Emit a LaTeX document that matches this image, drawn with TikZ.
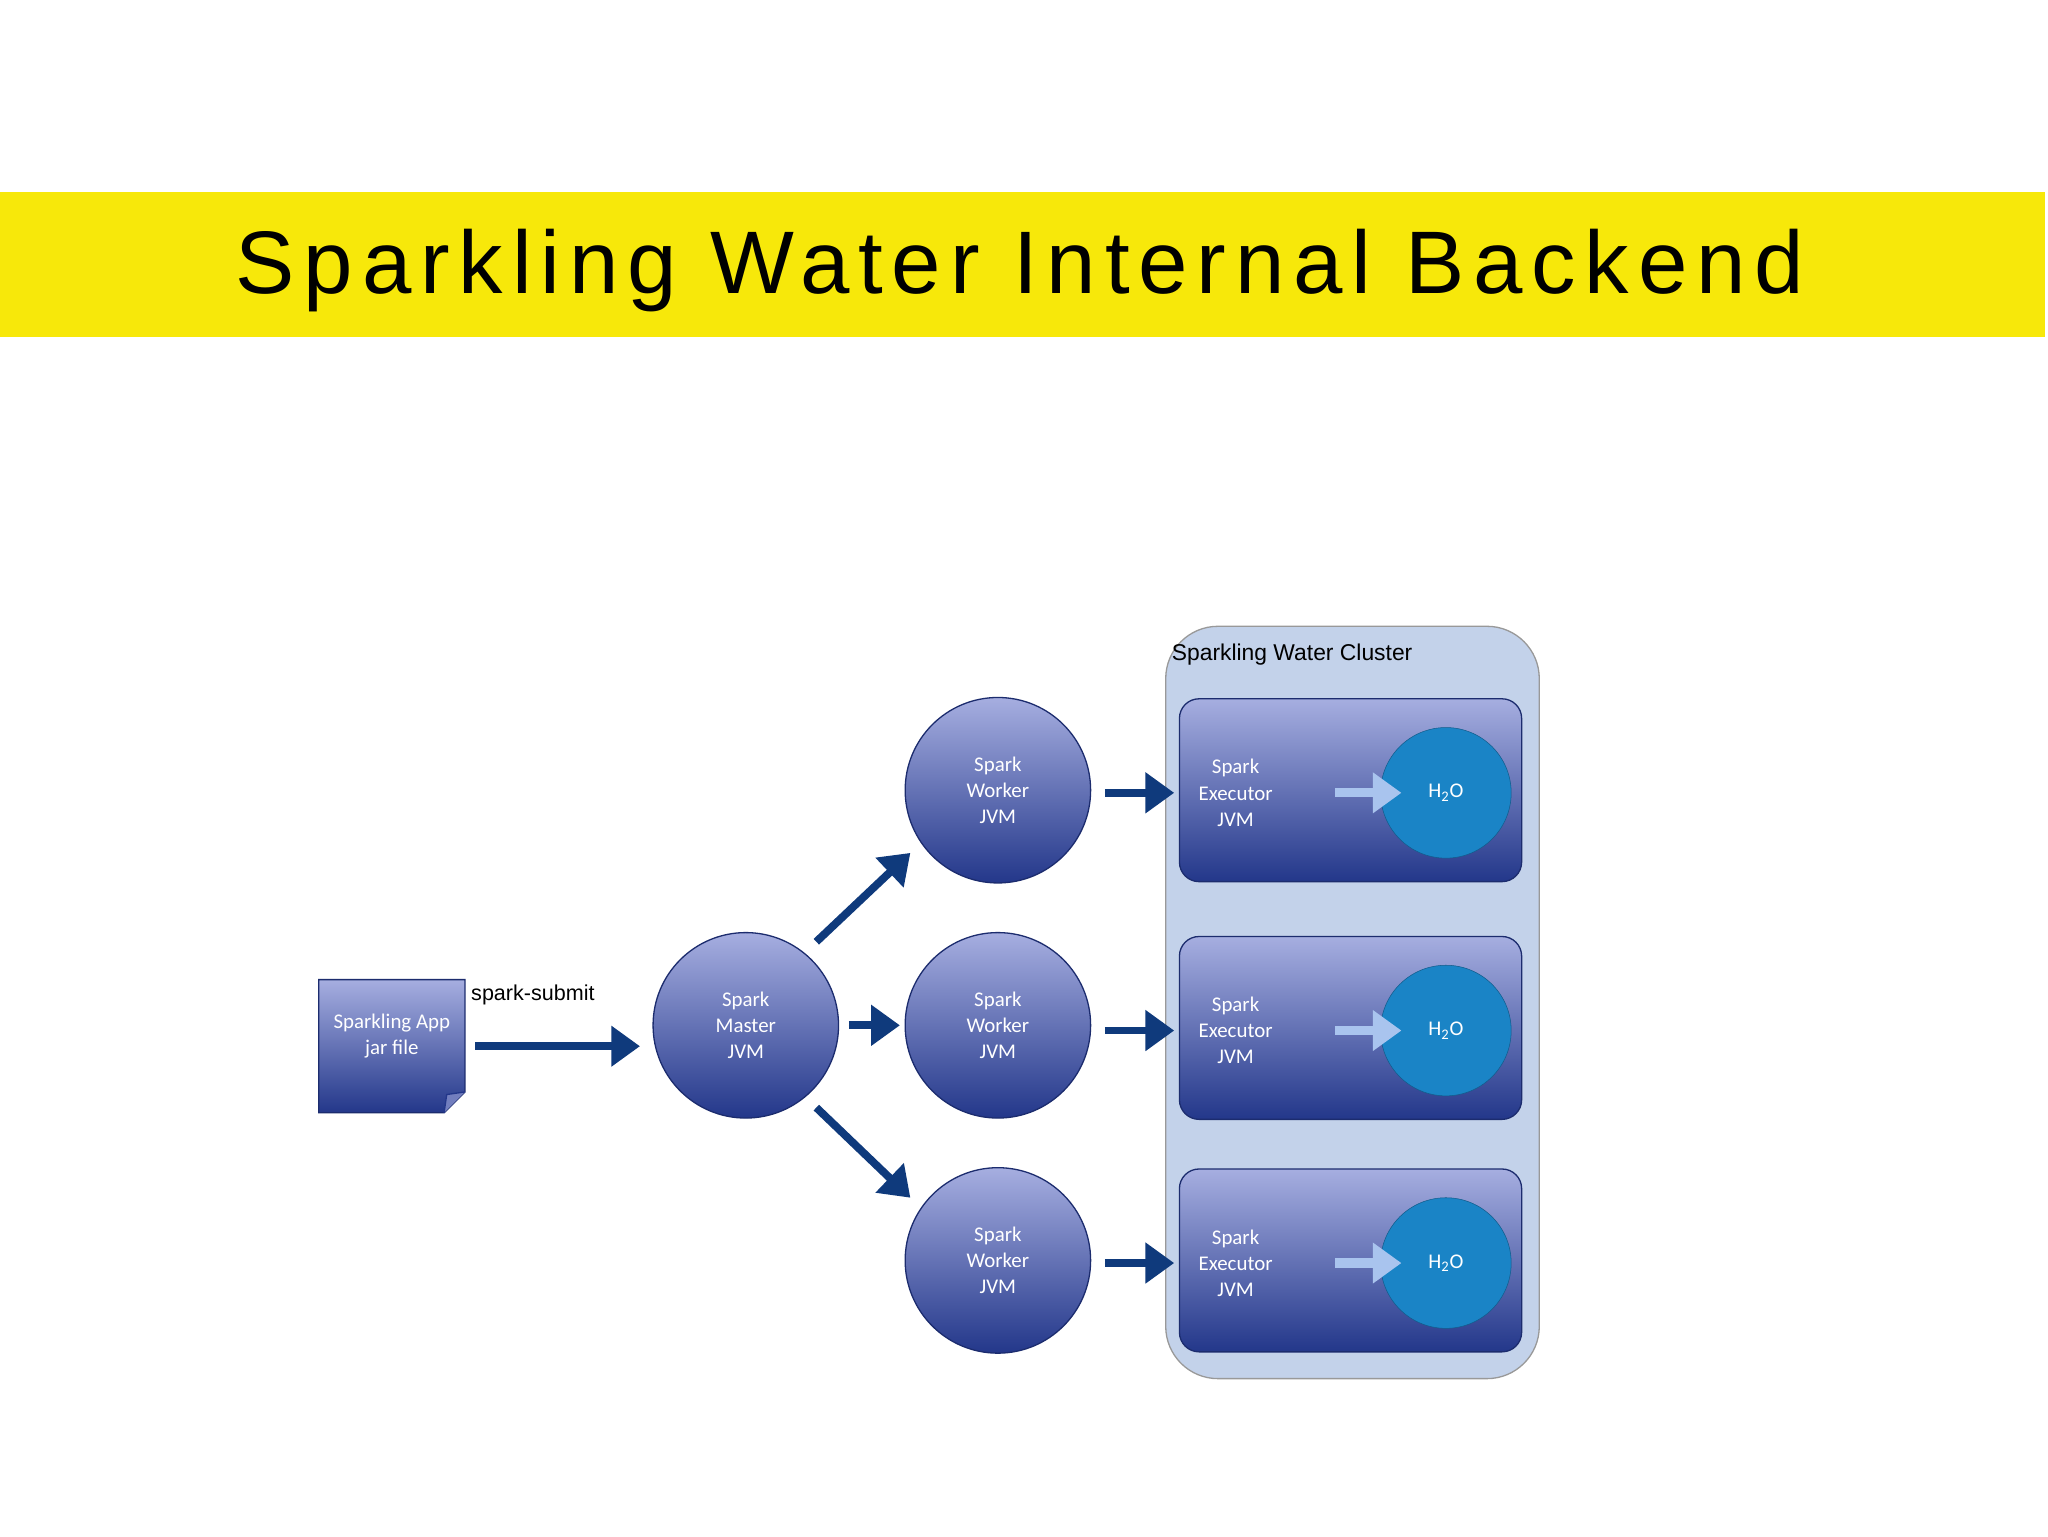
\documentclass[tikz,border=0pt]{standalone}
\usepackage{fontspec}
\setmainfont{Carlito}
\newfontfamily\titlefont[LetterSpace=10]{Liberation Sans}
\newfontfamily\arialf{Liberation Sans}
\usetikzlibrary{arrows.meta}
\definecolor{band}{HTML}{F7E80A}
\definecolor{clus}{HTML}{C3D2EA}
\definecolor{gtop}{HTML}{A6AEE0}
\definecolor{gbot}{HTML}{23378A}
\definecolor{htwo}{HTML}{1A84C6}
\definecolor{arr}{HTML}{0F3A7C}
\definecolor{larr}{HTML}{A9C4EE}
\tikzset{
  grad/.style={top color=gtop,bottom color=gbot,draw=gbot!80!black,line width=1pt},
  jvm/.style={grad,circle,minimum size=142pt,inner sep=0pt,text=white,font=\fontsize{16}{20}\selectfont,align=center},
  execbox/.style={grad,rounded corners=15pt,minimum width=262pt,minimum height=140pt,inner sep=0pt},
  hnode/.style={circle,fill=htwo,draw=htwo!70!black,minimum size=100pt,inner sep=0pt,text=white,font=\fontsize{16}{20}\selectfont},
  etext/.style={text=white,font=\fontsize{16}{20}\selectfont,align=center},
  bigarrow/.style={draw=arr,line width=6pt,-{Triangle[length=22pt,width=30pt]},fill=arr},
  lightarrow/.style={draw=larr,line width=7pt,-{Triangle[length=22pt,width=30pt]},fill=larr},
}
\begin{document}
\begin{tikzpicture}[x=1pt,y=-1pt]
\useasboundingbox (0,0) rectangle (1568,1176);
\fill[white] (0,0) rectangle (1568,1176);
\fill[band] (0,147) rectangle (1566,258);
\node (title) at (781,207) {\titlefont\fontsize{68}{70}\selectfont Sparkling Water Internal Backend};
\node[draw=gray!80,fill=clus,line width=1pt,rounded corners=40pt,minimum width=286pt,minimum height=576pt,anchor=north west] (cluster) at (892,479) {};
\node[anchor=west,inner sep=0pt] (clabel) at (897,501) {\arialf\fontsize{17.5}{20}\selectfont Sparkling Water Cluster};
% document
\draw[grad] (244,750) -- (356,750) -- (356,836) -- (340,852) -- (244,852) -- cycle;
\draw[gbot,line width=1pt,fill=gtop!60!gbot] (356,836) -- (342,838) -- (340,852);
\node[etext] (doc) at (300,793) {Sparkling App\\jar file};
\node[inner sep=0pt] (sub) at (408,762) {\arialf\fontsize{16.5}{20}\selectfont spark-submit};
\node[jvm] (master) at (571,785) {Spark\\Master\\JVM};
\node[jvm] (w1) at (764,605) {Spark\\Worker\\JVM};
\node[jvm] (w2) at (764,785) {Spark\\Worker\\JVM};
\node[jvm] (w3) at (764,965) {Spark\\Worker\\JVM};
\foreach \i/\y in {1/607,2/789,3/967}{
  \node[execbox] (e\i) at (1034,\y+-2) {};
  \node[etext,anchor=center] (et\i) at (946,\y) {Spark\\Executor\\JVM};
  \node[hnode] (h\i) at (1107,\y) {H\textsubscript{2}O};
  \coordinate (la\i) at (1022,\y);
  \coordinate (lb\i) at (1073,\y);
  \draw[lightarrow] (la\i) -- (lb\i);
  \coordinate (wa\i) at (846,\y);
  \coordinate (wb\i) at (899,\y);
  \draw[bigarrow] (wa\i) -- (wb\i);
}
\coordinate (docR) at (364,801);
\coordinate (mIn) at (490,801);
\coordinate (m2a) at (650,785);
\coordinate (m2b) at (689,785);
\coordinate (m1a) at (625,721);
\coordinate (m1b) at (697,653);
\coordinate (m3a) at (625,848);
\coordinate (m3b) at (697,917);
\draw[bigarrow] (docR) -- (mIn);
\draw[bigarrow] (m2a) -- (m2b);
\draw[bigarrow] (m1a) -- (m1b);
\draw[bigarrow] (m3a) -- (m3b);
\end{tikzpicture}
\end{document}
